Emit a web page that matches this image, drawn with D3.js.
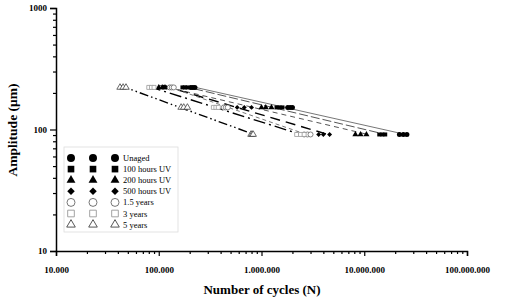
<!DOCTYPE html>
<html><head><meta charset="utf-8">
<script src="https://cdn.jsdelivr.net/npm/d3@7"></script>
<style>body{margin:0;background:#fff}svg{display:block}</style>
</head><body>
<svg id="c" width="505" height="302"></svg>
<script>
// ---- data ----
const seriesNames = ["Unaged","100 hours UV","200 hours UV","500 hours UV","1.5 years","3 years","5 years"];
const amplitudes = [222, 152, 91];
const cyclesUnaged = [[205000,215000,225000],[1800000,1900000,2000000],[22000000,24000000,26000000]];
const cycles100h   = [[170000,180000,190000],[1400000,1500000,1600000],[14000000,15000000,16000000]];
const cycles200h   = [[100000,108000,115000],[1000000,1100000,1250000],[8200000,9200000,10500000]];
const cycles500h   = [[110000,118000,125000],[580000,680000,800000],[3600000,4000000,4600000]];
const cycles15y    = [[128000,134000,140000],[430000,450000,470000],[2600000,2800000,3000000]];
const cycles3y     = [[80000,85000,90000],[340000,360000,380000],[2200000,2400000,2600000]];
const cycles5y     = [[42000,45000,48000],[165000,175000,190000],[790000,810000,830000]];
const xTickLabels = ["10.000","100.000","1.000.000","10.000.000","100.000.000"];
const yTickLabels = ["10","100","1000"];

const allCycles = [cyclesUnaged,cycles100h,cycles200h,cycles500h,cycles15y,cycles3y,cycles5y];

// ---- styles ----
const symTypes = [d3.symbolCircle,d3.symbolSquare,d3.symbolTriangle,d3.symbolSquare,d3.symbolCircle,d3.symbolSquare,d3.symbolTriangle];
const symRot = [0,0,0,45,0,0,0];
const filled = [true,true,true,true,false,false,false];
const markColor = ["#000","#000","#000","#000","#666","#999","#444"];
const lineColor = ["#777","#555","#555","#000","#777","#000","#000"];
const lineWidth = [1,1,1,1.4,1,1.4,1.4];
const lineDash = [null,"9,3","5,4","10,6","4,3","12,4,2,4","9,3,1.5,3,1.5,3"];

const svg = d3.select("#c");
const x = d3.scaleLog().domain([1e4,1e8]).range([56,467]);
const y = d3.scaleLog().domain([10,1000]).range([251,8]);
const serif = "'Liberation Serif','Times New Roman',serif";

// axes
const xMajor = [1e4,1e5,1e6,1e7,1e8];
const xMinor = [];
for (let d=1e4; d<1e8; d*=10) for (let k=2;k<=9;k++) xMinor.push(d*k);
const yMajor = [10,100,1000];
const yMinor = [];
for (let d=10; d<1000; d*=10) for (let k=2;k<=9;k++) yMinor.push(d*k);

const gx = svg.append("g").attr("transform","translate(0,251)");
gx.call(d3.axisBottom(x).tickValues(xMajor).tickSize(5).tickFormat((d,i)=>xTickLabels[i]));
gx.append("g").call(d3.axisBottom(x).tickValues(xMinor).tickSize(3).tickFormat(""))
  .select(".domain").remove();
const gy = svg.append("g").attr("transform","translate(56,0)");
gy.call(d3.axisLeft(y).tickValues(yMajor).tickSize(6).tickFormat((d,i)=>yTickLabels[i]));
gy.append("g").call(d3.axisLeft(y).tickValues(yMinor).tickSize(3).tickFormat(""))
  .select(".domain").remove();
svg.selectAll(".domain").attr("stroke","#000").attr("stroke-width",1.5);
svg.selectAll(".tick line").attr("stroke","#000").attr("stroke-width",1.2);
gx.selectAll(".tick text").attr("font-family",serif).attr("font-weight","bold").attr("font-size",9).attr("fill","#000").attr("dy","1.6em");
gy.selectAll(".tick text").attr("font-family",serif).attr("font-weight","bold").attr("font-size",9).attr("fill","#000");

// titles
svg.append("text").attr("x",262).attr("y",294).attr("text-anchor","middle")
  .attr("font-family",serif).attr("font-weight","bold").attr("font-size",13).text("Number of cycles (N)");
svg.append("text").attr("transform","translate(17,130) rotate(-90)").attr("text-anchor","middle")
  .attr("font-family",serif).attr("font-weight","bold").attr("font-size",13.5).text("Amplitude (μm)");

// fit lines (log-log regression of each series)
const plot = svg.append("g");
allCycles.forEach((cyc,si)=>{
  const pts=[];
  cyc.forEach((row,ai)=>row.forEach(n=>pts.push([Math.log10(n),Math.log10(amplitudes[ai])])));
  const mx=d3.mean(pts,p=>p[0]), my=d3.mean(pts,p=>p[1]);
  const b=d3.sum(pts,p=>(p[0]-mx)*(p[1]-my))/d3.sum(pts,p=>(p[0]-mx)**2);
  const a=my-b*mx;
  const x0=d3.min(pts,p=>p[0]), x1=d3.max(pts,p=>p[0]);
  plot.append("line")
    .attr("x1",x(10**x0)).attr("y1",y(10**(a+b*x0)))
    .attr("x2",x(10**x1)).attr("y2",y(10**(a+b*x1)))
    .attr("stroke",lineColor[si]).attr("stroke-width",lineWidth[si])
    .attr("stroke-dasharray",lineDash[si]);
});
// markers
const symSize = [20,16,16,12,20,16,18];
allCycles.forEach((cyc,si)=>{
  cyc.forEach((row,ai)=>row.forEach(n=>{
    plot.append("path")
      .attr("d",d3.symbol().type(symTypes[si]).size(symSize[si])())
      .attr("transform",`translate(${x(n)},${y(amplitudes[ai])}) rotate(${symRot[si]})`)
      .attr("fill",filled[si]?markColor[si]:"#fff")
      .attr("stroke",markColor[si]).attr("stroke-width",filled[si]?0:0.8);
  }));
});

// legend
const lg = svg.append("g");
lg.append("rect").attr("x",64).attr("y",147).attr("width",114).attr("height",85)
  .attr("fill","#fff").attr("stroke","#ddd").attr("stroke-width",0.8);
const lSize = [50,44,34,28,50,44,32];
seriesNames.forEach((name,i)=>{
  const yy = 158 + i*11.1;
  [71,93,115].forEach(cx=>{
    lg.append("path").attr("d",d3.symbol().type(symTypes[i]).size(lSize[i])())
      .attr("transform",`translate(${cx},${yy}) rotate(${symRot[i]})`)
      .attr("fill",filled[i]?markColor[i]:"#fff")
      .attr("stroke",markColor[i]).attr("stroke-width",filled[i]?0:0.9);
  });
  lg.append("text").attr("x",123).attr("y",yy+3).attr("font-family",serif)
    .attr("font-size",8.5).attr("fill","#000").text(name);
});
</script>
</body></html>
